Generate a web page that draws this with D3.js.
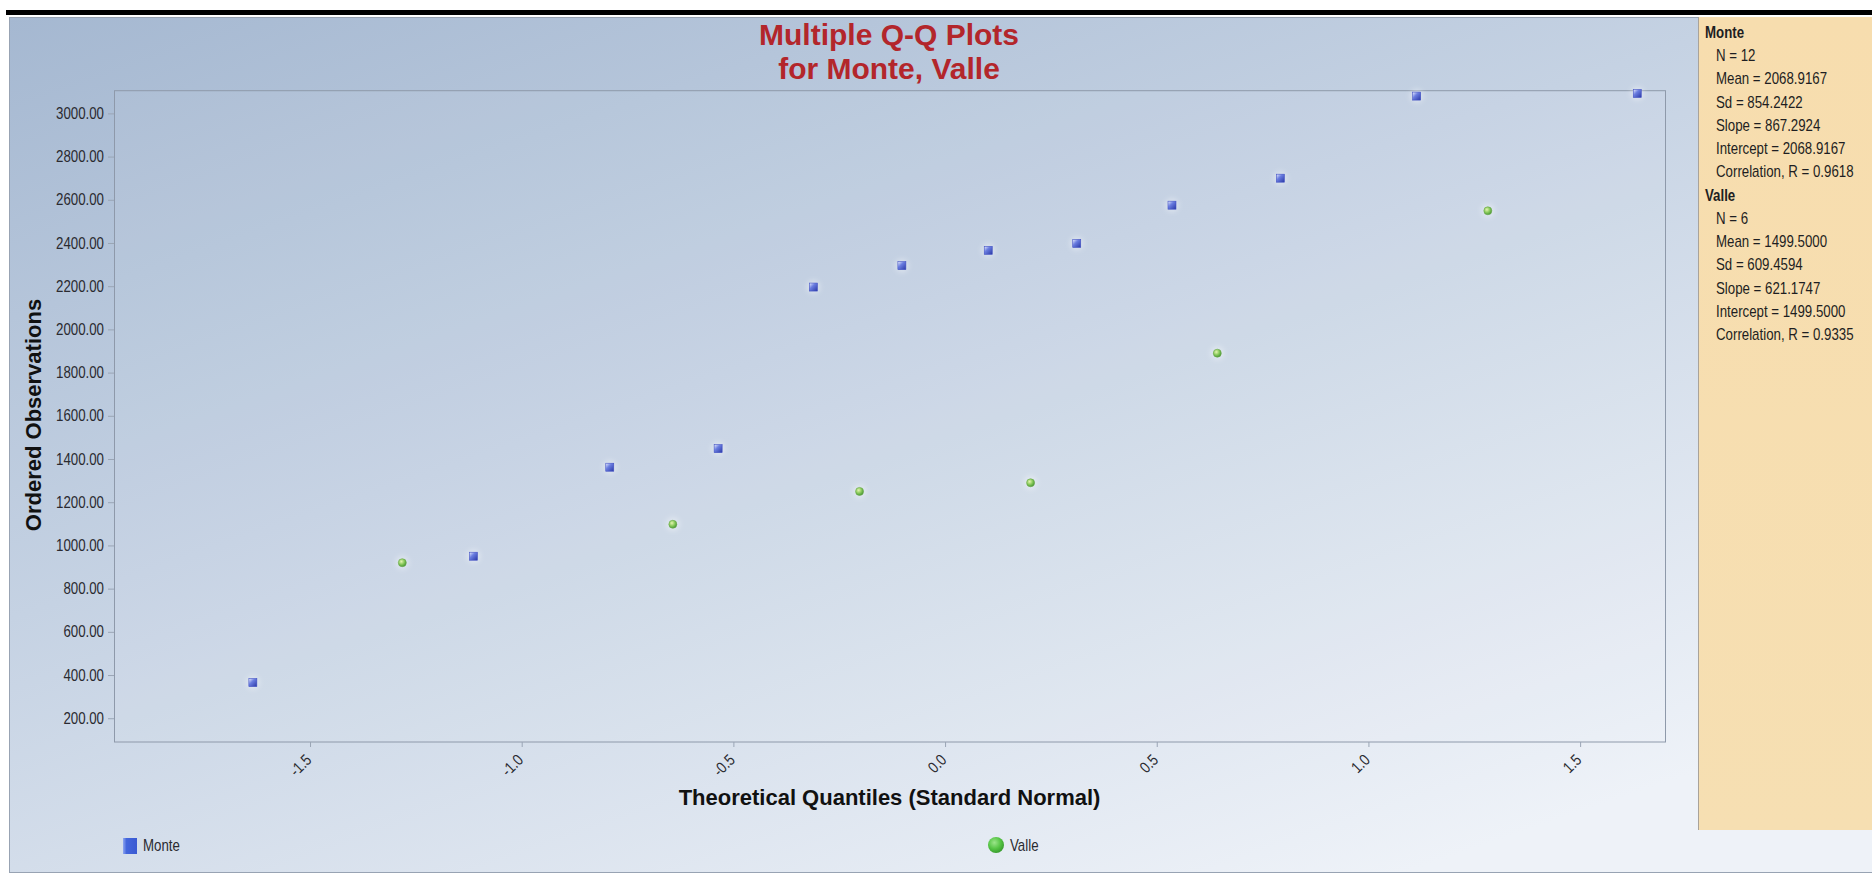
<!DOCTYPE html>
<html>
<head>
<meta charset="utf-8">
<title>Multiple Q-Q Plots for Monte, Valle</title>
<script src="https://cdn.jsdelivr.net/npm/d3@7"></script>
<style>
  body { margin: 0; background: #ffffff; }
  svg { display: block; }
  .narrow { font-family: "Liberation Sans", Arial, sans-serif; }
  .bold { font-family: "Liberation Sans", Arial, sans-serif; font-weight: bold; }
</style>
</head>
<body>
<svg id="chart" width="1872" height="877"></svg>
<script>
// ---- data ----------------------------------------------------------------
const seriesNames = ["Monte", "Valle"];

// theoretical normal scores (x) and ordered observations (y)
const monteQuantiles = [-1.635, -1.114, -0.792, -0.536, -0.311, -0.102, 0.102, 0.311, 0.536, 0.792, 1.114, 1.635];
const monteValues    = [365, 950, 1362, 1448, 2196, 2295, 2366, 2398, 2575, 2700, 3080, 3092];

const valleQuantiles = [-1.282, -0.643, -0.202, 0.202, 0.643, 1.282];
const valleValues    = [920, 1098, 1250, 1290, 1890, 2549];

const xTicks = [-1.5, -1.0, -0.5, 0.0, 0.5, 1.0, 1.5];
const yTicks = [200, 400, 600, 800, 1000, 1200, 1400, 1600, 1800, 2000, 2200, 2400, 2600, 2800, 3000];

const monteStats = ["N = 12", "Mean = 2068.9167", "Sd = 854.2422", "Slope = 867.2924", "Intercept = 2068.9167", "Correlation, R = 0.9618"];
const valleStats = ["N = 6", "Mean = 1499.5000", "Sd = 609.4594", "Slope = 621.1747", "Intercept = 1499.5000", "Correlation, R = 0.9335"];

const titleLines = ["Multiple Q-Q Plots", "for Monte, Valle"];
const xTitle = "Theoretical Quantiles (Standard Normal)";
const yTitle = "Ordered Observations";

// ---- layout --------------------------------------------------------------
const W = 1872, H = 877;
const plot = { left: 114, right: 1665, top: 90.7, bottom: 742 };
const panel = { x: 1698, y: 17, w: W - 1698, h: 813 };
const NARROW = 0.83;   // horizontal squeeze for the condensed label face

const svg = d3.select("#chart");
const defs = svg.append("defs");

// background wash
const bg = defs.append("linearGradient").attr("id", "bgGrad")
  .attr("x1", 0).attr("y1", 0).attr("x2", 0.75).attr("y2", 1);
bg.append("stop").attr("offset", "0%").attr("stop-color", "#a5b8d1");
bg.append("stop").attr("offset", "45%").attr("stop-color", "#c5d2e3");
bg.append("stop").attr("offset", "100%").attr("stop-color", "#eef2f8");

const pg = defs.append("linearGradient").attr("id", "panelGrad")
  .attr("x1", 0).attr("y1", 0).attr("x2", 0).attr("y2", 1);
pg.append("stop").attr("offset", "0%").attr("stop-color", "#f7ddae");
pg.append("stop").attr("offset", "100%").attr("stop-color", "#f6dfb2");

// marker fills
const sq = defs.append("linearGradient").attr("id", "sqGrad")
  .attr("x1", 0).attr("y1", 0).attr("x2", 1).attr("y2", 1);
sq.append("stop").attr("offset", "0%").attr("stop-color", "#eef1ff");
sq.append("stop").attr("offset", "40%").attr("stop-color", "#6a7de0");
sq.append("stop").attr("offset", "100%").attr("stop-color", "#2a38a6");

const ci = defs.append("radialGradient").attr("id", "ciGrad")
  .attr("cx", "38%").attr("cy", "35%").attr("r", "65%");
ci.append("stop").attr("offset", "0%").attr("stop-color", "#e4f4b0");
ci.append("stop").attr("offset", "55%").attr("stop-color", "#8acb5c");
ci.append("stop").attr("offset", "100%").attr("stop-color", "#4c9a38");

const lsq = defs.append("linearGradient").attr("id", "legSq")
  .attr("x1", 0).attr("y1", 0).attr("x2", 1).attr("y2", 0);
lsq.append("stop").attr("offset", "0%").attr("stop-color", "#8ea6f0");
lsq.append("stop").attr("offset", "25%").attr("stop-color", "#4466dc");
lsq.append("stop").attr("offset", "100%").attr("stop-color", "#3a5ad2");

const lci = defs.append("radialGradient").attr("id", "legCi")
  .attr("cx", "40%").attr("cy", "35%").attr("r", "65%");
lci.append("stop").attr("offset", "0%").attr("stop-color", "#9be58a");
lci.append("stop").attr("offset", "60%").attr("stop-color", "#55c444");
lci.append("stop").attr("offset", "100%").attr("stop-color", "#3a9e30");

const halo = defs.append("filter").attr("id", "halo");
halo.append("feGaussianBlur").attr("stdDeviation", 2.5);

// frame
svg.append("rect").attr("x", 6).attr("y", 10).attr("width", W - 6).attr("height", 5).attr("fill", "#000");
svg.append("rect").attr("x", 9.5).attr("y", 17.5).attr("width", W - 9).attr("height", 855)
  .attr("fill", "url(#bgGrad)").attr("stroke", "#98a3b3").attr("stroke-width", 1);

// statistics panel
svg.append("rect").attr("x", panel.x).attr("y", panel.y).attr("width", panel.w).attr("height", panel.h)
  .attr("fill", "url(#panelGrad)");
svg.append("line").attr("x1", panel.x + 0.5).attr("x2", panel.x + 0.5)
  .attr("y1", panel.y).attr("y2", panel.y + panel.h).attr("stroke", "#a9a39a").attr("stroke-width", 1);

// ---- scales --------------------------------------------------------------
const x = d3.scaleLinear().domain([-1.963, 1.7005]).range([plot.left, plot.right]);
const y = d3.scaleLinear().domain([90, 3105]).range([plot.bottom, plot.top]);

// plot frame
svg.append("rect").attr("x", plot.left + 0.5).attr("y", plot.top).attr("width", plot.right - plot.left)
  .attr("height", plot.bottom - plot.top).attr("fill", "#ffffff").attr("fill-opacity", 0.04)
  .attr("stroke", "#8e99aa").attr("stroke-width", 1);

// ---- axes ----------------------------------------------------------------
const fmtY = d3.format(".2f");
const fmtX = d => d3.format(".1f")(d).replace("\u2212", "-");

const yAxis = svg.append("g").attr("transform", `translate(${plot.left},0)`)
  .call(d3.axisLeft(y).tickValues(yTicks).tickFormat(fmtY).tickSize(6).tickPadding(4));
yAxis.select(".domain").remove();
yAxis.selectAll(".tick line").attr("stroke", "#9aa5b5");
yAxis.selectAll(".tick text").attr("class", "narrow").attr("font-size", 16).attr("fill", "#2a2a30")
  .attr("x", 0).attr("transform", `translate(-10,0) scale(${NARROW},1)`);

const xAxis = svg.append("g").attr("transform", `translate(0,${plot.bottom})`)
  .call(d3.axisBottom(x).tickValues(xTicks).tickFormat(fmtX).tickSize(5));
xAxis.select(".domain").remove();
xAxis.selectAll(".tick line").attr("stroke", "#9aa5b5");
xAxis.selectAll(".tick text").attr("class", "narrow").attr("font-size", 16).attr("fill", "#2a2a30")
  .attr("text-anchor", "end").attr("x", 0).attr("y", 0).attr("dy", "0.35em")
  .attr("transform", `translate(-2,15) rotate(-45) scale(${NARROW},1)`);

// ---- titles --------------------------------------------------------------
svg.append("text").attr("class", "bold").attr("text-anchor", "middle")
  .attr("font-size", 30).attr("fill", "#b3262b")
  .selectAll("tspan").data(titleLines).join("tspan")
  .attr("x", 889).attr("y", (d, i) => 45 + i * 33.5).text(d => d);

svg.append("text").attr("class", "bold").attr("text-anchor", "middle")
  .attr("font-size", 22).attr("fill", "#111").attr("x", 889.5).attr("y", 805).text(xTitle);

svg.append("text").attr("class", "bold").attr("text-anchor", "middle")
  .attr("font-size", 22).attr("fill", "#111")
  .attr("transform", `translate(41,415) rotate(-90)`).text(yTitle);

// ---- points --------------------------------------------------------------
const monte = monteQuantiles.map((q, i) => ({ q, v: monteValues[i] }));
const valle = valleQuantiles.map((q, i) => ({ q, v: valleValues[i] }));

const haloG = svg.append("g").attr("filter", "url(#halo)");
haloG.selectAll("circle").data(monte.concat(valle)).join("circle")
  .attr("cx", d => x(d.q)).attr("cy", d => y(d.v)).attr("r", 7)
  .attr("fill", "#ffffff").attr("fill-opacity", 0.35);

svg.append("g").selectAll("rect").data(monte).join("rect")
  .attr("x", d => x(d.q) - 4).attr("y", d => y(d.v) - 4).attr("width", 8).attr("height", 8)
  .attr("fill", "url(#sqGrad)").attr("stroke", "#4150c4").attr("stroke-width", 0.6);

svg.append("g").selectAll("circle").data(valle).join("circle")
  .attr("cx", d => x(d.q)).attr("cy", d => y(d.v)).attr("r", 4)
  .attr("fill", "url(#ciGrad)").attr("stroke", "#6aa84a").attr("stroke-width", 0.6);

// ---- legend --------------------------------------------------------------
const legend = svg.append("g");
legend.append("rect").attr("x", 123).attr("y", 838).attr("width", 14).attr("height", 16)
  .attr("fill", "url(#legSq)");
legend.append("text").attr("class", "narrow").attr("font-size", 16).attr("fill", "#2a2a30")
  .attr("transform", `translate(143,851) scale(${NARROW},1)`).text(seriesNames[0]);
legend.append("circle").attr("cx", 996).attr("cy", 845).attr("r", 8)
  .attr("fill", "url(#legCi)");
legend.append("text").attr("class", "narrow").attr("font-size", 16).attr("fill", "#2a2a30")
  .attr("transform", `translate(1010,851) scale(${NARROW},1)`).text(seriesNames[1]);

// ---- statistics text -----------------------------------------------------
const rows = [];
[[seriesNames[0], monteStats], [seriesNames[1], valleStats]].forEach(([name, stats]) => {
  rows.push({ text: name, head: true });
  stats.forEach(s => rows.push({ text: s, head: false }));
});
svg.append("g").selectAll("text").data(rows).join("text")
  .attr("class", "narrow").attr("font-size", 16).attr("fill", "#1e1e22")
  .attr("font-weight", d => d.head ? "bold" : "normal")
  .attr("transform", (d, i) => `translate(${d.head ? 1705 : 1716},${38 + i * 23.24}) scale(${NARROW},1)`)
  .text(d => d.text);
</script>
</body>
</html>
